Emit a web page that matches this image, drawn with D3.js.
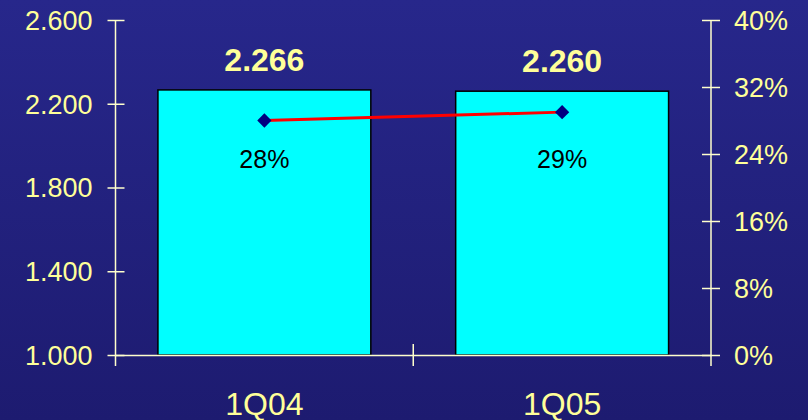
<!DOCTYPE html>
<html>
<head>
<meta charset="utf-8">
<script src="https://cdn.jsdelivr.net/npm/d3@7"></script>
<style>
  html, body { margin: 0; padding: 0; background: #22217c; }
  #chart { width: 808px; height: 420px; }
  text { font-family: "Liberation Sans", Arial, sans-serif; }
</style>
</head>
<body>
<div id="chart"></div>
<script>
    const categories = ["1Q04", "1Q05"];
    const barValues = [2.266, 2.260];
    const barLabels = ["2.266", "2.260"];
    const pctValues = [0.28, 0.29];
    const pctLabels = ["28%", "29%"];
    const leftTicks = [1.0, 1.4, 1.8, 2.2, 2.6];
    const leftTickLabels = ["1.000", "1.400", "1.800", "2.200", "2.600"];
    const rightTicks = [0, 0.08, 0.16, 0.24, 0.32, 0.40];
    const rightTickLabels = ["0%", "8%", "16%", "24%", "32%", "40%"];

    const width = 808;
    const height = 420;
    const margin = { left: 115.5, right: 97, top: 20, bottom: 65 };
    const textColor = "#ffff99";
    const axisColor = "#ffffcc";

    const svg = d3.select("#chart").append("svg")
        .attr("width", width)
        .attr("height", height);

    const grad = svg.append("defs").append("linearGradient")
        .attr("id", "bg").attr("x1", 0).attr("y1", 0).attr("x2", 0).attr("y2", 1);
    grad.append("stop").attr("offset", "0%").attr("stop-color", "#27278b");
    grad.append("stop").attr("offset", "100%").attr("stop-color", "#1d1b70");
    svg.append("rect").attr("width", width).attr("height", height).attr("fill", "url(#bg)");

    const x = d3.scaleBand()
        .domain(categories)
        .range([margin.left, width - margin.right])
        .padding(0);

    const y = d3.scaleLinear()
        .domain([1.0, 2.6])
        .range([height - margin.bottom, margin.top]);

    const y2 = d3.scaleLinear()
        .domain([0, 0.4])
        .range([height - margin.bottom, margin.top]);

    const barW = x.bandwidth() * 0.715;

    // bars
    svg.append("g")
        .selectAll("rect")
        .data(categories)
        .join("rect")
        .attr("x", d => x(d) + (x.bandwidth() - barW) / 2)
        .attr("y", (d, i) => y(barValues[i]))
        .attr("width", barW)
        .attr("height", (d, i) => y(1.0) - y(barValues[i]))
        .attr("fill", "#00ffff")
        .attr("stroke", "#000")
        .attr("stroke-width", 1.5);

    // left axis
    const leftAxis = d3.axisLeft(y)
        .tickValues(leftTicks)
        .tickFormat((d, i) => leftTickLabels[i])
        .tickSizeInner(0)
        .tickSizeOuter(0)
        .tickPadding(23);
    const gl = svg.append("g").attr("transform", `translate(${margin.left},0)`).call(leftAxis);
    gl.select(".domain").attr("stroke", axisColor).attr("stroke-width", 1.5);
    gl.selectAll(".tick line").attr("x1", -8).attr("x2", 9).attr("stroke", axisColor).attr("stroke-width", 1.5);
    gl.selectAll(".tick text").attr("fill", textColor).attr("font-size", 27).attr("dy", "0.35em");
    gl.select(".domain").attr("d", `M0,${y(2.6)}V${y(1.0) + 11}`);

    // right axis
    const rightAxis = d3.axisRight(y2)
        .tickValues(rightTicks)
        .tickFormat((d, i) => rightTickLabels[i])
        .tickSizeInner(0)
        .tickSizeOuter(0)
        .tickPadding(23);
    const gr = svg.append("g").attr("transform", `translate(${width - margin.right},0)`).call(rightAxis);
    gr.select(".domain").attr("stroke", axisColor).attr("stroke-width", 1.5)
        .attr("d", `M0,${y2(0.4)}V${y2(0) + 11}`);
    gr.selectAll(".tick line").attr("x1", -9).attr("x2", 9).attr("stroke", axisColor).attr("stroke-width", 1.5);
    gr.selectAll(".tick text").attr("fill", textColor).attr("font-size", 27).attr("dy", "0.35em");

    // bottom axis
    const bottomAxis = d3.axisBottom(x).tickSize(0).tickPadding(37);
    const gb = svg.append("g").attr("transform", `translate(0,${height - margin.bottom})`).call(bottomAxis);
    gb.select(".domain").attr("stroke", axisColor).attr("stroke-width", 1.5);
    gb.selectAll(".tick line").remove();
    gb.selectAll(".tick text").attr("fill", textColor).attr("font-size", 32).attr("dy", "0.71em");
    gb.append("line")
        .attr("x1", x(categories[1])).attr("x2", x(categories[1]))
        .attr("y1", -11).attr("y2", 11)
        .attr("stroke", axisColor).attr("stroke-width", 1.5);

    // bar value labels
    svg.append("g")
        .selectAll("text")
        .data(categories)
        .join("text")
        .attr("x", d => x(d) + x.bandwidth() / 2)
        .attr("y", (d, i) => y(barValues[i]) - 19)
        .attr("text-anchor", "middle")
        .attr("fill", textColor)
        .attr("font-size", 32)
        .attr("font-weight", "bold")
        .text((d, i) => barLabels[i]);

    // percentage line
    const line = d3.line()
        .x((d, i) => x(categories[i]) + x.bandwidth() / 2)
        .y(d => y2(d));
    svg.append("path")
        .datum(pctValues)
        .attr("d", line)
        .attr("fill", "none")
        .attr("stroke", "#ff0000")
        .attr("stroke-width", 3);

    svg.append("g")
        .selectAll("path")
        .data(pctValues)
        .join("path")
        .attr("d", d3.symbol(d3.symbolDiamond2, 130))
        .attr("transform", (d, i) => `translate(${x(categories[i]) + x.bandwidth() / 2},${y2(d)})`)
        .attr("fill", "#000080");

    // percentage labels sit at one height inside the bars
    svg.append("g")
        .selectAll("text")
        .data(pctValues)
        .join("text")
        .attr("x", (d, i) => x(categories[i]) + x.bandwidth() / 2)
        .attr("y", y2(0.28) + 47)
        .attr("text-anchor", "middle")
        .attr("fill", "#000")
        .attr("font-size", 25)
        .text((d, i) => pctLabels[i]);
</script>
</body>
</html>
